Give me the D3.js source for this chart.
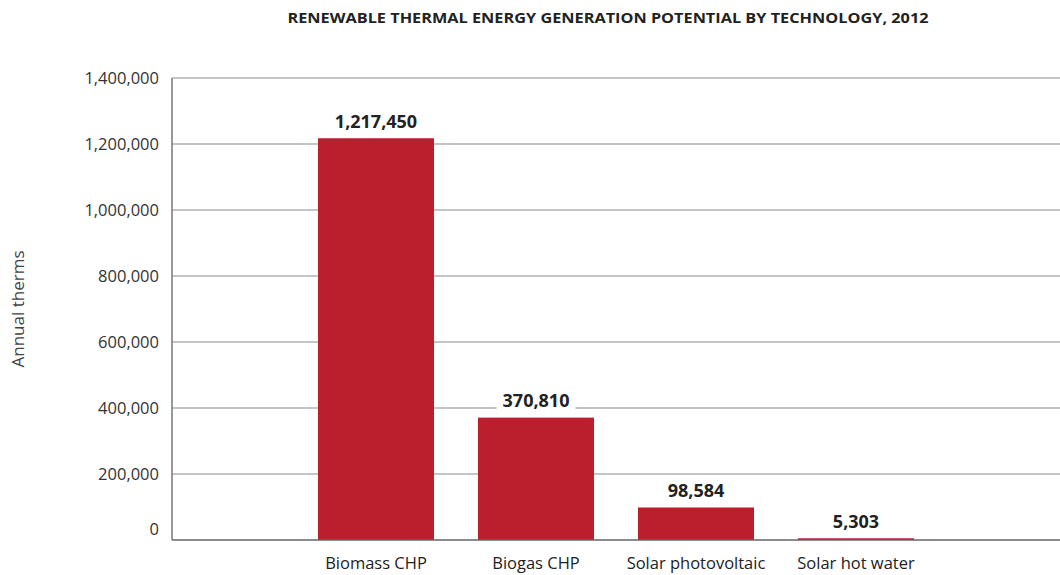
<!DOCTYPE html>
<html><head><meta charset="utf-8">
<script src="https://cdn.jsdelivr.net/npm/d3@7"></script>
<style>body{margin:0;background:#fff}svg{display:block}</style>
</head><body>
<svg id="chart" width="1060" height="575"></svg>
<script>
const categories = ["Biomass CHP", "Biogas CHP", "Solar photovoltaic", "Solar hot water"];
const values = [1217450, 370810, 98584, 5303];
const yTicks = [0, 200000, 400000, 600000, 800000, 1000000, 1200000, 1400000];
const title = "RENEWABLE THERMAL ENERGY GENERATION POTENTIAL BY TECHNOLOGY, 2012";
const yTitle = "Annual therms";

(function () {
const svg = d3.select("#chart");
const font = "'Open Sans', 'Noto Sans', sans-serif";
const pLeft = 172, pRight = 1060, pTop = 78, pBottom = 540;

const y = d3.scaleLinear().domain([0, 1400000]).range([pBottom, pTop]);
const x = d3.scaleBand().domain(categories).range([296, 936]).paddingInner(0.275).paddingOuter(0.1375);
const fmt = d3.format(",");

// gridlines
svg.append("g").selectAll("line").data(yTicks.filter(d => d > 0)).join("line")
  .attr("x1", pLeft).attr("x2", pRight)
  .attr("y1", d => y(d)).attr("y2", d => y(d))
  .attr("stroke", "#8a8a8a").attr("stroke-width", 1.2);

// y tick labels
svg.append("g").selectAll("text").data(yTicks).join("text")
  .attr("x", 159).attr("y", d => d === 0 ? y(d) - 11 : y(d))
  .attr("dy", "0.35em").attr("text-anchor", "end")
  .attr("font-family", font).attr("font-size", 16.5).attr("fill", "#333")
  .text(d => fmt(d));

// bars
svg.append("g").selectAll("rect").data(values).join("rect")
  .attr("x", (d, i) => x(categories[i])).attr("width", x.bandwidth())
  .attr("y", d => y(d)).attr("height", d => pBottom - y(d))
  .attr("fill", "#bb1f2e");

// axes lines
svg.append("line").attr("x1", pLeft).attr("x2", pLeft).attr("y1", pTop).attr("y2", pBottom)
  .attr("stroke", "#777").attr("stroke-width", 1.5);
svg.append("line").attr("x1", pLeft).attr("x2", pRight).attr("y1", pBottom).attr("y2", pBottom)
  .attr("stroke", "#666").attr("stroke-width", 1.6);

// value labels with white background
const lg = svg.append("g").selectAll("g").data(values).join("g")
  .attr("transform", (d, i) => `translate(${x(categories[i]) + x.bandwidth() / 2},${y(d) - 17})`);
lg.append("text")
  .attr("text-anchor", "middle").attr("dy", "0.35em")
  .attr("font-family", font).attr("font-size", 18).attr("font-weight", "bold").attr("fill", "#222")
  .text(d => fmt(d));
lg.each(function () {
  const g = d3.select(this);
  const bb = g.select("text").node().getBBox();
  g.insert("rect", "text").attr("x", bb.x - 6).attr("y", bb.y).attr("width", bb.width + 12).attr("height", bb.height).attr("fill", "#fff");
});

// category labels
svg.append("g").selectAll("text").data(categories).join("text")
  .attr("x", d => x(d) + x.bandwidth() / 2).attr("y", 563).attr("dy", "0.35em")
  .attr("text-anchor", "middle").attr("font-family", font).attr("font-size", 16.5).attr("fill", "#222")
  .text(d => d);

// title
svg.append("text").attr("x", 608).attr("y", 18).attr("dy", "0.35em").attr("text-anchor", "middle")
  .attr("font-family", font).attr("font-size", 14).attr("font-weight", "bold").attr("fill", "#222")
  .attr("textLength", 641).attr("lengthAdjust", "spacingAndGlyphs")
  .text(title);

// y title
svg.append("text").attr("transform", "translate(18,309) rotate(-90)").attr("dy", "0.35em")
  .attr("text-anchor", "middle").attr("font-family", font).attr("font-size", 17).attr("fill", "#444")
  .text(yTitle);
})();
</script>
</body></html>
